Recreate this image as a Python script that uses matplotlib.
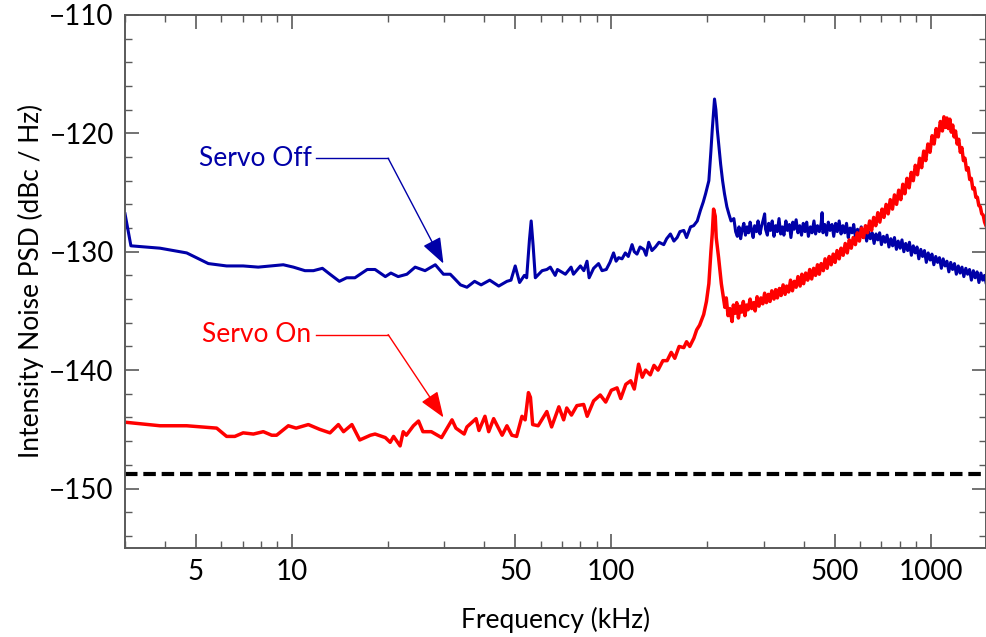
import numpy as np
import matplotlib
matplotlib.use('Agg')
import matplotlib.pyplot as plt
from matplotlib.ticker import FixedLocator, FixedFormatter, NullFormatter

plt.rcParams['font.family'] = ['Lato', 'DejaVu Sans']

# Servo Off (kHz, dBc/Hz)
freq_off = [3.0, 3.13, 3.86, 4.68, 5.47, 6.24, 7.03, 7.84, 9.39, 10.1, 10.98, 11.67, 12.45, 13.15, 14.07,
            14.83, 15.74, 17.2, 18.2, 19.6, 20.4, 21.5, 22.9, 24.3, 26.1, 28.1, 29.8, 31.3, 32.1, 33.7,
            35.3, 37.3, 39.1, 41.6, 44.4, 47.1, 48.5, 50.0, 51.6, 53.4, 54.3, 55.4, 56.1, 56.9, 57.8,
            60.7, 62.8, 64.4, 66.7, 67.8, 69.8, 71.8, 74.8, 76.1, 80.0, 82.0, 83.9, 85.2, 88.0, 91.2,
            93.5, 96.4, 99.0, 101.6, 103.5, 105.4, 108.0, 110.6, 113.0, 116.1, 118.0, 120.3, 123.0, 126.3,
            128.5, 130.9, 134.0, 137.4, 141.0, 145.9, 149.0, 153.1, 157.0, 160.7, 164.0, 168.6, 172.0,
            177.0, 181.0, 185.8, 190.1, 194.0, 197.3, 202.0, 205.0, 207.0, 210.4, 212.5, 214.7, 217.0,
            219.9, 223.0, 226.1, 230.0, 233.3, 237.0,
            241.9, 245, 248, 251, 254, 257, 260, 263, 266, 269, 272, 275, 278, 281, 285, 288, 292, 295,
            299, 302, 304, 308, 311, 315, 319, 323, 327, 331, 335, 339, 343, 347, 352, 356, 361, 365,
            370, 374, 379, 384, 389, 394, 399, 404, 409, 414, 420, 425, 431, 436, 442, 448, 454, 457,
            460, 466, 472, 478, 484, 491, 497, 504, 510, 517, 524, 531, 538, 545, 552, 559, 567, 574,
            582, 590, 598, 606, 614, 622, 630, 639, 647, 656, 665, 674, 683, 692, 701, 711, 720, 730,
            740, 750, 760, 770, 781, 791, 802, 813, 824, 835, 847, 858, 870, 882, 894, 906, 918, 931,
            943, 956, 969, 982, 996, 1009, 1023, 1037, 1051, 1065, 1080, 1094, 1109, 1124, 1140, 1155,
            1171, 1187, 1203, 1220, 1236, 1253, 1270, 1288, 1305, 1323, 1341, 1360, 1378, 1397, 1416,
            1436, 1455, 1475, 1490]
psd_off = [-126.8, -129.5, -129.7, -130.1, -131.0, -131.2, -131.2, -131.3, -131.1, -131.3, -131.6, -131.6,
           -131.4, -131.9, -132.5, -132.2, -132.2, -131.5, -131.5, -132.1, -131.8, -132.1, -131.9, -131.3,
           -131.6, -131.1, -131.9, -131.9, -132.2, -132.8, -133.0, -132.5, -132.8, -132.4, -132.9, -132.5,
           -132.4, -131.2, -132.6, -132.0, -132.2, -129.0, -127.4, -129.5, -132.2, -131.6, -131.5, -131.3,
           -132.0, -131.5, -131.7, -131.9, -131.3, -131.9, -131.2, -131.6, -130.8, -132.2, -131.4, -131.0,
           -131.6, -131.5, -130.9, -130.1, -130.8, -130.5, -130.6, -130.1, -130.4, -129.4, -130.0, -130.2,
           -129.6, -129.8, -130.3, -129.2, -129.9, -129.6, -129.2, -129.4, -128.9, -128.5, -129.1, -128.8,
           -128.3, -128.2, -128.8, -127.9, -127.8, -127.4, -126.5, -125.8, -125.1, -124.0, -121.5, -119.7,
           -117.1, -118.0, -119.7, -121.0, -122.6, -124.0, -125.1, -126.2, -126.8, -127.4,
           -127.2, -128.3, -128.7, -127.9, -128.9, -128.1, -127.6, -128.6, -127.9, -128.4, -127.5, -128.2,
           -128.8, -127.8, -128.3, -127.4, -128.5, -127.9, -127.3, -126.8, -128.1, -128.6, -127.6, -128.2,
           -127.4, -128.7, -127.8, -128.3, -127.2, -128.5, -127.9, -128.6, -127.4, -128.2, -127.7, -128.8,
           -127.5, -128.1, -127.3, -128.4, -127.8, -128.6, -127.6, -128.3, -127.5, -128.7, -127.9, -128.4,
           -127.4, -128.5, -127.8, -128.3, -127.6, -126.7, -128.4, -127.7, -128.6, -127.5, -128.2, -127.7,
           -128.7, -127.6, -128.3, -127.4, -128.5, -127.8, -128.4, -127.6, -128.8, -128.0, -128.4, -127.7,
           -128.9, -128.1, -128.6, -127.9, -128.8, -128.2, -129.1, -128.3, -128.9, -128.4, -129.3, -128.5,
           -129.0, -128.4, -129.4, -128.7, -129.2, -128.6, -129.6, -128.9, -129.5, -128.8, -129.8, -129.1,
           -129.7, -129.0, -130.0, -129.3, -129.9, -129.2, -130.3, -129.5, -130.1, -129.6, -130.6, -129.8,
           -130.4, -129.9, -130.9, -130.1, -130.7, -130.2, -131.1, -130.4, -130.9, -130.5, -131.4, -130.6,
           -131.2, -130.8, -131.7, -130.9, -131.5, -131.0, -131.9, -131.2, -131.8, -131.3, -132.1, -131.4,
           -131.9, -131.5, -132.4, -131.6, -132.2, -131.7, -132.6, -131.8, -132.4, -132.0, -132.6]

# Servo On
freq_on = [3.0, 3.86, 4.68, 5.81, 6.24, 6.62, 7.03, 7.57, 8.13, 8.64, 8.95, 9.74, 10.3, 11.25, 12.2, 13.15,
           13.97, 14.5, 15.4, 16.3, 17.6, 18.2, 19.6, 20.3, 20.8, 21.8, 22.3, 22.8, 24.0, 24.9, 25.7, 27.3,
           29.4, 31.7, 32.6, 34.6, 35.3, 37.7, 38.5, 40.2, 41.3, 42.8, 45.5, 47.1, 48.8, 50.5, 52.5, 53.7,
           55.0, 55.8, 56.7, 59.0, 62.8, 65.0, 68.5, 70.9, 72.5, 75.0, 78.0, 81.9, 84.0, 88.0, 92.3, 96.0,
           100.0, 104.2, 107.0, 111.0, 115.0, 118.0, 121.7, 125.0, 128.0, 132.4, 136.0, 140.0, 145.0,
           149.5, 154.0, 158.0, 163.0, 168.6, 172.0, 176.0, 181.3, 185.0, 189.0, 194.6, 198.5, 202.0,
           205.0, 207.0, 209.0, 211.5, 213.0, 216.7, 221.0,
           226.7, 229, 232, 235, 238.8, 241, 244, 247, 250, 253, 256, 259, 262, 265, 268, 272, 275, 279,
           282, 286, 290, 294, 298, 302, 306, 310, 314, 318, 323, 327, 331, 336, 340, 345, 350, 354, 359,
           364, 369, 374, 379, 384, 390, 395, 400, 406, 412, 418, 424, 430, 436, 442, 448, 454, 461, 467,
           474, 481, 488, 495, 502, 509, 517, 524, 532, 540, 548, 556, 564, 572, 581, 589, 598, 607, 616,
           625, 634, 644, 653, 663, 673, 683, 693, 704, 714, 725, 736, 747, 759, 770, 782, 794, 806, 818,
           830, 843, 856, 869, 882, 895, 909, 923, 937, 951, 965, 980, 995, 1010, 1025, 1040, 1056, 1072,
           1088, 1100, 1112, 1124, 1136, 1148, 1160, 1172, 1184, 1196, 1210, 1224, 1238, 1252, 1266,
           1280, 1295, 1310, 1325, 1340, 1355, 1370, 1385, 1400, 1415, 1430, 1445, 1460, 1475, 1490]
psd_on = [-144.4, -144.7, -144.7, -144.9, -145.6, -145.6, -145.3, -145.4, -145.2, -145.5, -145.5, -144.7,
          -144.9, -144.6, -145.0, -145.3, -144.6, -145.2, -144.6, -145.9, -145.5, -145.4, -145.7, -146.1,
          -145.6, -146.4, -145.2, -145.5, -144.7, -144.3, -145.2, -145.2, -145.7, -144.2, -144.9, -145.4,
          -144.8, -144.1, -145.1, -143.9, -145.2, -144.1, -145.5, -144.7, -145.5, -145.6, -143.9, -144.2,
          -141.9, -142.3, -144.6, -144.7, -143.5, -144.8, -143.1, -144.2, -143.2, -143.8, -143.0, -142.9,
          -143.9, -142.6, -142.1, -142.7, -141.7, -141.5, -142.4, -141.2, -140.9, -141.6, -139.5, -140.6,
          -140.0, -140.4, -139.6, -140.0, -139.2, -139.2, -138.5, -139.0, -138.0, -138.1, -137.6, -138.0,
          -137.3, -136.6, -136.2, -135.3, -134.2, -132.7, -130.0, -128.5, -126.4, -127.0, -128.8, -130.5,
          -132.7,
          -134.7, -133.9, -135.4, -134.8, -135.9, -134.5, -135.2, -134.3, -135.6, -134.6, -135.1, -134.2,
          -135.4, -134.5, -134.9, -134.0, -134.8, -134.3, -135.0, -133.8, -134.6, -133.9, -134.4, -133.5,
          -134.3, -133.6, -134.2, -133.3, -134.0, -133.2, -133.9, -133.1, -133.7, -132.8, -133.6, -132.9,
          -133.4, -132.4, -133.3, -132.5, -133.0, -132.1, -132.9, -131.9, -132.7, -131.8, -132.4, -131.5,
          -132.3, -131.4, -132.0, -131.1, -131.9, -131.0, -131.6, -130.6, -131.4, -130.4, -131.1, -130.2,
          -130.9, -129.9, -130.6, -129.7, -130.3, -129.3, -130.1, -129.0, -129.7, -128.8, -129.4, -128.4,
          -129.1, -128.0, -128.8, -127.8, -128.4, -127.4, -128.2, -127.1, -127.8, -126.7, -127.5, -126.4,
          -127.1, -126.0, -126.8, -125.6, -126.4, -125.2, -126.0, -124.8, -125.6, -124.3, -125.1, -123.8,
          -124.6, -123.3, -124.0, -122.7, -123.5, -122.1, -122.9, -121.5, -122.3, -120.9, -121.6, -120.2,
          -120.9, -119.6, -120.3, -119.0, -119.8, -118.6, -119.5, -118.7, -119.6, -118.8, -119.9, -119.3,
          -120.3, -119.8, -120.9, -120.5, -121.6, -121.2, -122.3, -122.1, -123.1, -122.9, -123.9, -123.8,
          -124.7, -124.6, -125.4, -125.4, -126.1, -126.2, -126.8, -126.9, -127.5, -127.8]

shot_noise = -148.8

blue = '#0000a8'
red = '#ff0000'
gray = '#5a5a5a'

fig = plt.figure(figsize=(9.86, 6.37), dpi=100)
ax = fig.add_axes([0.1268, 0.1402, 0.8732, 0.8363])

ax.plot(freq_off, psd_off, color=blue, lw=2.2)
ax.plot(freq_on, psd_on, color=red, lw=2.5)
ax.axhline(shot_noise, color='black', lw=3.0, dashes=(3.0, 1.4))

ax.set_xscale('log')
ax.set_xlim(3, 1490)
ax.set_ylim(-155, -110)

# ticks
ax.xaxis.set_major_locator(FixedLocator([5, 10, 50, 100, 500, 1000]))
ax.xaxis.set_major_formatter(FixedFormatter(['5', '10', '50', '100', '500', '1000']))
minor_x = [m * d for d in (1, 10, 100, 1000) for m in range(1, 10)]
ax.xaxis.set_minor_locator(FixedLocator(minor_x))
ax.xaxis.set_minor_formatter(NullFormatter())
ax.set_yticks([-150, -140, -130, -120, -110])
ax.set_yticks(np.arange(-154, -109, 2), minor=True)

ax.tick_params(which='both', direction='in', top=True, right=True, colors=gray,
               labelcolor='black', labelsize=20, pad=8)
ax.tick_params(which='major', length=10, width=1.2)
ax.tick_params(which='minor', length=5, width=1.0)
for s in ax.spines.values():
    s.set_color(gray)
    s.set_linewidth(1.4)

ax.set_xlabel('Frequency (kHz)', fontsize=19, labelpad=16)
ax.set_ylabel('Intensity Noise PSD (dBc / Hz)', fontsize=19, labelpad=4)

# annotations
ax.text(11.5, -122.1, 'Servo Off', color=blue, fontsize=19, ha='right', va='center')
ax.plot([11.9, 20.0], [-122.1, -122.1], color=blue, lw=1.0)
ax.annotate('', xy=(29.8, -131.0), xytext=(20.0, -122.1),
            arrowprops=dict(arrowstyle='-|>,head_length=0.8,head_width=0.3', color=blue,
                            lw=1.0, mutation_scale=20, shrinkA=0, shrinkB=0))

ax.text(11.5, -137.0, 'Servo On', color=red, fontsize=19, ha='right', va='center')
ax.plot([11.9, 20.0], [-137.0, -137.0], color=red, lw=1.0)
ax.annotate('', xy=(29.8, -144.0), xytext=(20.0, -137.0),
            arrowprops=dict(arrowstyle='-|>,head_length=0.8,head_width=0.3', color=red,
                            lw=1.0, mutation_scale=20, shrinkA=0, shrinkB=0))

fig.savefig('out.png', dpi=100)
